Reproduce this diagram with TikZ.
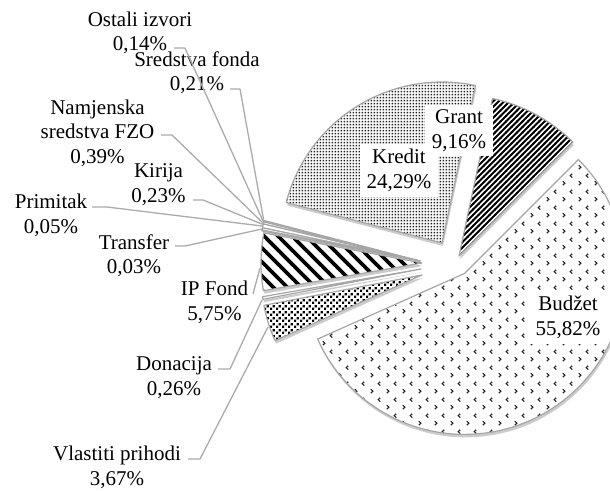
\documentclass[tikz,border=0pt]{standalone}
\usepackage{fontspec}
\setmainfont{Liberation Serif}
\usetikzlibrary{patterns,shadows}

\pgfdeclarepatternformonly{kdots}{\pgfqpoint{0pt}{0pt}}{\pgfqpoint{3.3pt}{3.3pt}}{\pgfqpoint{3.3pt}{3.3pt}}{%
  \pgfpathrectangle{\pgfqpoint{0.8pt}{0.8pt}}{\pgfqpoint{1.7pt}{1.7pt}}\pgfusepath{fill}}
\pgfdeclarepatternformonly{gstripes}{\pgfqpoint{-1pt}{-1pt}}{\pgfqpoint{6.5pt}{6.5pt}}{\pgfqpoint{5.5pt}{5.5pt}}{%
  \pgfsetlinewidth{2pt}\pgfpathmoveto{\pgfqpoint{-0.5pt}{-0.5pt}}\pgfpathlineto{\pgfqpoint{6pt}{6pt}}\pgfusepath{stroke}}
\pgfdeclarepatternformonly{ipstripes}{\pgfqpoint{-1pt}{-1pt}}{\pgfqpoint{15pt}{15pt}}{\pgfqpoint{14pt}{14pt}}{%
  \pgfsetlinewidth{3.6pt}\pgfpathmoveto{\pgfqpoint{-0.5pt}{14.5pt}}\pgfpathlineto{\pgfqpoint{14.5pt}{-0.5pt}}\pgfusepath{stroke}}
\pgfdeclarepatternformonly{divot}{\pgfqpoint{0pt}{0pt}}{\pgfqpoint{16pt}{16pt}}{\pgfqpoint{16pt}{16pt}}{%
  \pgfsetlinewidth{1.2pt}%
  \pgfpathmoveto{\pgfqpoint{3pt}{6pt}}\pgfpathlineto{\pgfqpoint{5.2pt}{4pt}}\pgfpathlineto{\pgfqpoint{3pt}{2pt}}%
  \pgfpathmoveto{\pgfqpoint{13pt}{14pt}}\pgfpathlineto{\pgfqpoint{10.8pt}{12pt}}\pgfpathlineto{\pgfqpoint{13pt}{10pt}}%
  \pgfusepath{stroke}}
\pgfdeclarepatternformonly{confetti}{\pgfqpoint{0pt}{0pt}}{\pgfqpoint{6pt}{6pt}}{\pgfqpoint{6pt}{6pt}}{%
  \pgfpathrectangle{\pgfqpoint{0pt}{0pt}}{\pgfqpoint{2.6pt}{2.6pt}}%
  \pgfpathrectangle{\pgfqpoint{3pt}{3pt}}{\pgfqpoint{2.6pt}{2.6pt}}\pgfusepath{fill}}

\newcommand\pieslice[5]{%
  \path[#5] (#1,#2) -- plot[domain=#3:#4, samples=90] ({#1+161*cos(\x)},{#2-161*sin(\x)}) -- cycle;}

\begin{document}
\begin{tikzpicture}[x=1pt,y=-1pt,
  lbl/.style={align=center, font=\fontsize{21}{24.5}\selectfont, inner sep=0pt},
  boxlbl/.style={lbl, fill=white, inner xsep=7pt, inner ysep=5pt},
  leader/.style={draw=black!33, line width=1.3pt, line join=round},
  slc/.style={drop shadow={opacity=0.4, shadow xshift=1pt, shadow yshift=-3pt},
              preaction={fill=white}, draw=black!35, line width=1.2pt, line join=round,
              pattern color=black}
]
\useasboundingbox (0,0) rectangle (610,490);
\clip (0,0) rectangle (610,490);

% slices
\pieslice{464.6}{273.4}{-155.93}{45.02}{slc, pattern=divot, pattern color=black!85}
\pieslice{459}{256}{45.02}{78}{slc, pattern=gstripes}
\pieslice{442}{243}{78}{165.44}{slc, pattern=kdots, pattern color=black!85}
\pieslice{420}{261}{165.44}{165.94}{slc}
\pieslice{420}{261}{165.94}{166.70}{slc}
\pieslice{420}{261}{166.70}{168.10}{slc}
\pieslice{420}{261}{168.10}{168.93}{slc}
\pieslice{420}{261}{168.93}{169.22}{slc}
\pieslice{422}{263}{169.22}{189.92}{slc, pattern=ipstripes}
\pieslice{421}{269}{189.92}{190.86}{slc}
\pieslice{422}{275}{190.86}{204.07}{slc, pattern=confetti}

% boxed labels
\node[boxlbl] (kredit) at (399,170.5) {Kredit\\24,29\%};
\node[boxlbl] (grant) at (459,130.5) {Grant\\9,16\%};
\node[boxlbl] (budzet) at (568,317.5) {Budžet\\55,82\%};

% outside labels
\node[lbl] (ostali) at (140,33) {Ostali izvori\\0,14\%};
\node[lbl] (sredstva) at (197,72.5) {Sredstva fonda\\0,21\%};
\node[lbl] (namjenska) at (97.5,133) {Namjenska\\sredstva FZO\\0,39\%};
\node[lbl] (kirija) at (158.5,184.5) {Kirija\\0,23\%};
\node[lbl] (primitak) at (51,215.5) {Primitak\\0,05\%};
\node[lbl] (transfer) at (134,255.5) {Transfer\\0,03\%};
\node[lbl] (ipfond) at (214.5,302.5) {IP Fond\\5,75\%};
\node[lbl] (donacija) at (174,377.5) {Donacija\\0,26\%};
\node[lbl] (vlastiti) at (117,467.5) {Vlastiti prihodi\\3,67\%};

% leader coordinates
\coordinate (ostS) at (174,48);   \coordinate (ostE) at (263,221);
\coordinate (sreS) at (230,89);   \coordinate (sreE) at (264,222);
\coordinate (namS) at (161,135);  \coordinate (namE) at (263,223);
\coordinate (kirS) at (193,200);  \coordinate (kirE) at (263,224.5);
\coordinate (priS) at (92,207);   \coordinate (priE) at (262,226);
\coordinate (traS) at (175,246);  \coordinate (traE) at (262,229);
\coordinate (ipS) at (253,294);   \coordinate (ipE) at (260,268);
\coordinate (donS) at (218,369);  \coordinate (donE) at (262,300);
\coordinate (vlaS) at (188,459);  \coordinate (vlaE) at (268,327);

\draw[leader] (ostS) -- ++(11,0) -- (ostE);
\draw[leader] (sreS) -- ++(10,0) -- (sreE);
\draw[leader] (namS) -- ++(11,0) -- (namE);
\draw[leader] (kirS) -- ++(10,0) -- (kirE);
\draw[leader] (priS) -- ++(15,0) -- (priE);
\draw[leader] (traS) -- ++(10,0) -- (traE);
\draw[leader] (ipS) -- (ipE);
\draw[leader] (donS) -- ++(12,0) -- (donE);
\draw[leader] (vlaS) -- ++(12,0) -- (vlaE);
\end{tikzpicture}
\end{document}
